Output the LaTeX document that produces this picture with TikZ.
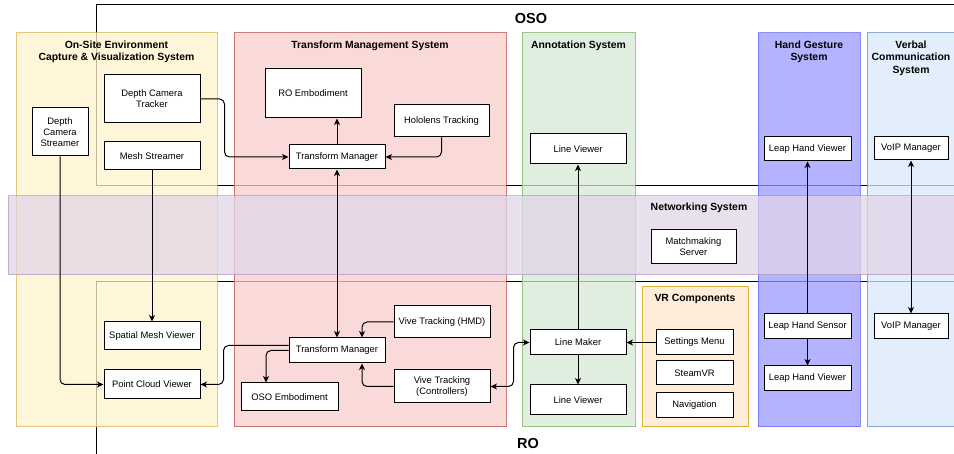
\documentclass[tikz,border=0pt]{standalone}
\usepackage{fontspec}
\setmainfont{Liberation Sans}
\usetikzlibrary{arrows.meta,calc}

\definecolor{capFill}{HTML}{FFF2CC}\definecolor{capLine}{HTML}{D6B656}
\definecolor{tmsFill}{HTML}{F8CECC}\definecolor{tmsLine}{HTML}{B85450}
\definecolor{annFill}{HTML}{D5E8D4}\definecolor{annLine}{HTML}{82B366}
\definecolor{vrFill}{HTML}{FFE6CC}\definecolor{vrLine}{HTML}{D79B00}
\definecolor{handFill}{HTML}{9999FF}\definecolor{handLine}{HTML}{6666FF}
\definecolor{voiceFill}{HTML}{DAE8FC}\definecolor{voiceLine}{HTML}{6C8EBF}
\definecolor{netFill}{HTML}{E1D5E7}\definecolor{netLine}{HTML}{9673A6}

\begin{document}
\begin{tikzpicture}[x=1pt,y=-1pt,
  sys/.style={line width=1pt, fill opacity=0.75, draw opacity=0.75},
  ttl/.style={font=\fontsize{10.4}{12.3}\selectfont\bfseries, align=center, inner sep=0pt},
  big/.style={font=\fontsize{14.5}{16}\selectfont\bfseries, inner sep=0pt, anchor=base},
  box/.style={draw=black, line width=1pt, fill=white, align=center, inner sep=1pt,
    font=\fontsize{9.4}{11}\selectfont},
  link/.style={line width=1pt, rounded corners=5pt,
    -{Stealth[length=6.5pt,width=6pt,inset=1.8pt]}},
  link2/.style={line width=1pt, rounded corners=5pt,
    {Stealth[length=6.5pt,width=6pt,inset=1.8pt]}-{Stealth[length=6.5pt,width=6pt,inset=1.8pt]}}
]
\useasboundingbox (0,0) rectangle (954,454);
\clip (0,0) rectangle (954,454);

% site outlines
\draw[line width=1pt] (96,5) rectangle (1000,186);
\draw[line width=1pt] (96,282) rectangle (1000,520);

% subsystem columns
\draw[sys, fill=capFill, draw=capLine] (16,33) rectangle (217,427);
\draw[sys, fill=tmsFill, draw=tmsLine] (234,33) rectangle (506,427);
\draw[sys, fill=annFill, draw=annLine] (522,33) rectangle (635,427);
\draw[sys, fill=handFill, draw=handLine] (758,33) rectangle (860,427);
\draw[sys, fill=voiceFill, draw=voiceLine] (867,33) rectangle (956,427);
\draw[sys, fill=vrFill, draw=vrLine] (642,287) rectangle (748,427);
\draw[sys, fill=netFill, draw=netLine, draw opacity=0.45] (8,196) rectangle (1000,275);

% labels
\node[big] (oso) at (531,24) {OSO};
\node[big] (ro) at (528,449) {RO};
\node[ttl, anchor=north] (tCap) at (116.5,40.8) {On-Site Environment\\Capture \& Visualization System};
\node[ttl, anchor=base] (tTms) at (370,48.8) {Transform Management System};
\node[ttl, anchor=base] (tAnn) at (578.5,48.8) {Annotation System};
\node[ttl, anchor=north] (tHand) at (809,40.8) {Hand Gesture\\System};
\node[ttl, anchor=north] (tVoice) at (911,40.8) {Verbal\\Communication\\System};
\node[ttl, anchor=base] (tNet) at (699,211) {Networking System};
\node[ttl, anchor=base] (tVr) at (695,302) {VR Components};

% components
\node[box, minimum width=56, minimum height=48] (dcs) at (60,132) {Depth\\Camera\\Streamer};
\node[box, minimum width=96, minimum height=48] (dct) at (152,99) {Depth Camera\\Tracker};
\node[box, minimum width=96, minimum height=28] (ms) at (152,156) {Mesh Streamer};
\node[box, minimum width=96, minimum height=49] (roe) at (313,93.5) {RO Embodiment};
\node[box, minimum width=95, minimum height=32] (hol) at (441.5,121) {Hololens Tracking};
\node[box, minimum width=96, minimum height=24] (tmT) at (337,157) {Transform Manager};
\node[box, minimum width=96, minimum height=30] (lvT) at (578,149) {Line Viewer};
\node[box, minimum width=87, minimum height=24] (lhvT) at (807.5,149) {Leap Hand Viewer};
\node[box, minimum width=74, minimum height=23] (voT) at (911,148.5) {VoIP Manager};
\node[box, minimum width=85, minimum height=34] (mm) at (693.5,247) {Matchmaking\\Server};
\node[box, minimum width=96, minimum height=28] (smv) at (152,336) {Spatial Mesh Viewer};
\node[box, minimum width=96, minimum height=29] (pcv) at (152,384.5) {Point Cloud Viewer};
\node[box, minimum width=96, minimum height=25] (tmB) at (337,350.5) {Transform Manager};
\node[box, minimum width=97, minimum height=28] (osoe) at (289.5,397) {OSO Embodiment};
\node[box, minimum width=96, minimum height=32] (vhmd) at (442,322) {Vive Tracking (HMD)};
\node[box, minimum width=96, minimum height=33] (vctl) at (442,386.5) {Vive Tracking\\(Controllers)};
\node[box, minimum width=96, minimum height=25] (lm) at (578,342.5) {Line Maker};
\node[box, minimum width=96, minimum height=30] (lvB) at (578,400) {Line Viewer};
\node[box, minimum width=77, minimum height=25] (sm) at (694.5,342.5) {Settings Menu};
\node[box, minimum width=77, minimum height=24] (svr) at (694.5,373) {SteamVR};
\node[box, minimum width=77, minimum height=25] (nav) at (694.5,405.5) {Navigation};
\node[box, minimum width=87, minimum height=25] (lhs) at (807.5,326.5) {Leap Hand Sensor};
\node[box, minimum width=87, minimum height=25] (lhvB) at (807.5,378.5) {Leap Hand Viewer};
\node[box, minimum width=74, minimum height=25] (voB) at (911,326.5) {VoIP Manager};

% connections
\draw[link] (dct.east) -- ++(24,0) |- (tmT.west);
\draw[link] (hol.south) |- (tmT.east);
\draw[link] (tmT.north) -- (tmT.north |- roe.south);
\draw[link2] (tmT.south) -- (tmB.north);
\draw[link] (dcs.south) |- (pcv.west);
\draw[link] (ms.south) -- (smv.north);
\draw[link] ([yshift=5pt]tmB.west) -- ++(-65,0) |- (pcv.east);
\draw[link] (tmB.west) -| ([xshift=-23.5pt]osoe.north);
\draw[link] (vhmd.west) -| ([xshift=25pt]tmB.north);
\draw[link] (vctl.west) -| ([xshift=25pt]tmB.south);
\draw[link2] (vctl.east) -- ++(23,0) |- (lm.west);
\draw[link] (lm.north) -- (lvT.south);
\draw[link] (lm.south) -- (lvB.north);
\draw[link] (sm.west) -- (lm.east);
\draw[link] (lhs.north) -- (lhvT.south);
\draw[link] (lhs.south) -- (lhvB.north);
\draw[link2] (voT.south) -- (voB.north);
\end{tikzpicture}
\end{document}
